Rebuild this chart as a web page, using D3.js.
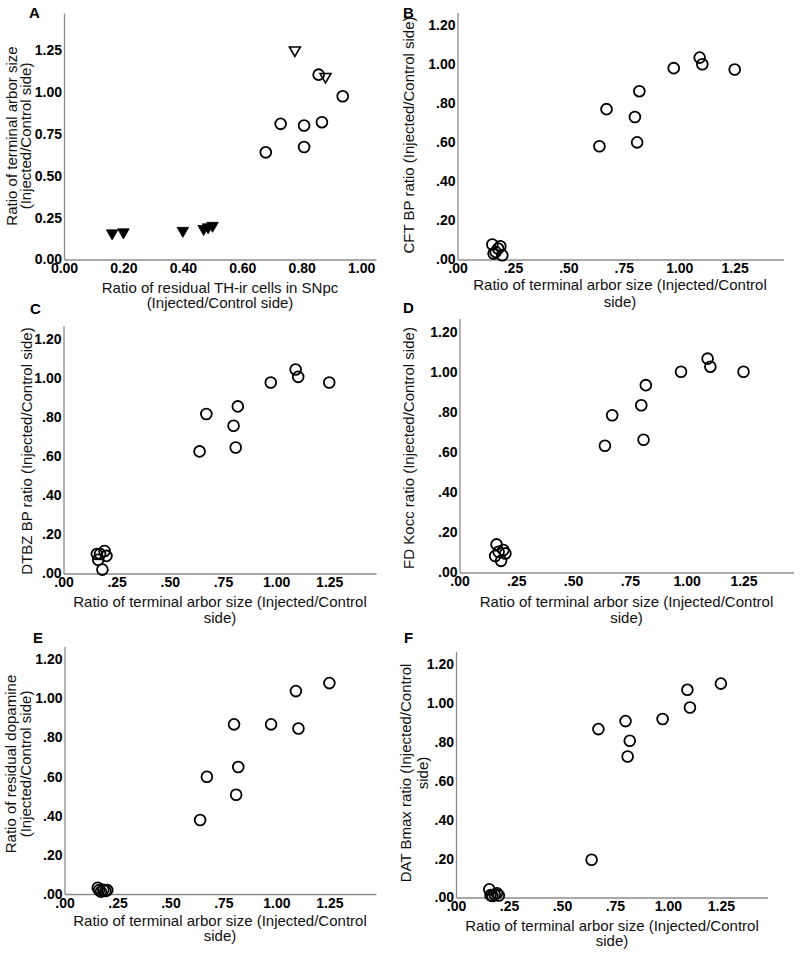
<!DOCTYPE html>
<html>
<head>
<meta charset="utf-8">
<script src="https://cdn.jsdelivr.net/npm/d3@7"></script>
<style>
  html, body { margin: 0; padding: 0; background: #fff; }
  svg { display: block; }
</style>
</head>
<body>
<svg id="chart" width="800" height="954"></svg>
<script>
// ---------------- DATA ----------------
// one entry per animal (same order in every array)
const thCells   = [0.679, 0.808, 0.808, 0.729, 0.868, 0.938, 0.880, 0.857, 0.777, 0.162, 0.200, 0.400, 0.470, 0.485, 0.500];
const arborSize = [0.640, 0.672, 0.800, 0.810, 0.820, 0.975, 1.092, 1.104, 1.250, 0.157, 0.163, 0.172, 0.183, 0.193, 0.202];
const markerGroup = ["circle","circle","circle","circle","circle","circle","open","circle","open",
                     "filled","filled","filled","filled","filled","filled"];
const cftBP     = [0.580, 0.770, 0.730, 0.600, 0.862, 0.980, 1.034, 1.000, 0.973, 0.077, 0.031, 0.039, 0.056, 0.068, 0.022];
const dtbzBP    = [0.624, 0.815, 0.755, 0.644, 0.854, 0.976, 1.043, 1.005, 0.976, 0.100, 0.070, 0.100, 0.020, 0.115, 0.090];
const fdKocc    = [0.631, 0.783, 0.833, 0.661, 0.933, 1.000, 1.065, 1.025, 1.000, 0.082, 0.140, 0.103, 0.058, 0.112, 0.095];
const dopamine  = [0.378, 0.599, 0.867, 0.507, 0.649, 0.867, 1.037, 0.846, 1.078, 0.032, 0.020, 0.012, 0.022, 0.015, 0.020];
const datBmax   = [0.194, 0.866, 0.907, 0.725, 0.806, 0.918, 1.068, 0.977, 1.100, 0.042, 0.012, 0.008, 0.015, 0.022, 0.010];

// tick values and labels
const thTicks         = [0, 0.2, 0.4, 0.6, 0.8, 1.0];
const thTickLabels    = ["0.00", "0.20", "0.40", "0.60", "0.80", "1.00"];
const arborATicks     = [0, 0.25, 0.5, 0.75, 1.0, 1.25];
const arborATickLabels= ["0.00", "0.25", "0.50", "0.75", "1.00", "1.25"];
const arborTicks      = [0, 0.25, 0.5, 0.75, 1.0, 1.25];
const arborTickLabels = [".00", ".25", ".50", ".75", "1.00", "1.25"];
const ratioTicks      = [0, 0.2, 0.4, 0.6, 0.8, 1.0, 1.2];
const ratioTickLabels = [".00", ".20", ".40", ".60", ".80", "1.00", "1.20"];

// titles
const xTitleTH    = ["Ratio of residual TH-ir cells in SNpc", "(Injected/Control side)"];
const xTitleArbor = ["Ratio of terminal arbor size (Injected/Control", "side)"];
const yTitleA = ["Ratio of terminal arbor size", "(Injected/Control side)"];
const yTitleB = ["CFT BP ratio (Injected/Control side)"];
const yTitleC = ["DTBZ BP ratio (Injected/Control side)"];
const yTitleD = ["FD Kocc ratio (Injected/Control side)"];
const yTitleE = ["Ratio of residual dopamine", "(Injected/Control side)"];
const yTitleF = ["DAT Bmax ratio (Injected/Control", "side)"];

// ---------------- LAYOUT ----------------
const FONT = "'Liberation Sans', Arial, Helvetica, sans-serif";
const panels = [
  { letter: "A", lx: 29, ly: 18, x: thCells, y: arborSize, groups: true,
    xd: [0, 1.05], yd: [0, 1.472], left: 64, right: 376, top: 13, bottom: 259.5,
    xt: thTicks, xtl: thTickLabels, yt: arborATicks, ytl: arborATickLabels,
    xTitle: xTitleTH, xtY: [292.5, 308], xtX: 220,
    yTitle: yTitleA, ytX: [17, 31], ytY: 136 },
  { letter: "B", lx: 403, ly: 18, x: arborSize, y: cftBP,
    xd: [0, 1.47], yd: [0, 1.265], left: 457.5, right: 783.5, top: 12.5, bottom: 259.5,
    xt: arborTicks, xtl: arborTickLabels, yt: ratioTicks, ytl: ratioTickLabels,
    xTitle: xTitleArbor, xtY: [290, 306.5], xtX: 620,
    yTitle: yTitleB, ytX: [413.5], ytY: 135 },
  { letter: "C", lx: 30, ly: 314, x: arborSize, y: dtbzBP,
    xd: [0, 1.47], yd: [0, 1.265], left: 63.5, right: 376, top: 326, bottom: 573.5,
    xt: arborTicks, xtl: arborTickLabels, yt: ratioTicks, ytl: ratioTickLabels,
    xTitle: xTitleArbor, xtY: [606.5, 623], xtX: 220,
    yTitle: yTitleC, ytX: [32], ytY: 451 },
  { letter: "D", lx: 403, ly: 313, x: arborSize, y: fdKocc,
    xd: [0, 1.47], yd: [0, 1.265], left: 459.5, right: 793.5, top: 318.5, bottom: 572.5,
    xt: arborTicks, xtl: arborTickLabels, yt: ratioTicks, ytl: ratioTickLabels,
    xTitle: xTitleArbor, xtY: [606.5, 623], xtX: 626.5,
    yTitle: yTitleD, ytX: [413.5], ytY: 448 },
  { letter: "E", lx: 33, ly: 643, x: arborSize, y: dopamine,
    xd: [0, 1.47], yd: [0, 1.265], left: 64.5, right: 376, top: 646.5, bottom: 894,
    xt: arborTicks, xtl: arborTickLabels, yt: ratioTicks, ytl: ratioTickLabels,
    xTitle: xTitleArbor, xtY: [926, 941], xtX: 220,
    yTitle: yTitleE, ytX: [16, 31], ytY: 764 },
  { letter: "F", lx: 404, ly: 643, x: arborSize, y: datBmax,
    xd: [0, 1.47], yd: [0, 1.265], left: 456, right: 767.5, top: 651.5, bottom: 897.5,
    xt: arborTicks, xtl: arborTickLabels, yt: ratioTicks, ytl: ratioTickLabels,
    xTitle: xTitleArbor, xtY: [931, 945.5], xtX: 612,
    yTitle: yTitleF, ytX: [411, 428], ytY: 773 }
];

const svg = d3.select("#chart");
const AXIS_COLOR = "#8c8c8c";

panels.forEach(p => {
  const g = svg.append("g");
  const xs = d3.scaleLinear().domain(p.xd).range([p.left, p.right]);
  const ys = d3.scaleLinear().domain(p.yd).range([p.bottom, p.top]);

  // x axis
  const gx = g.append("g")
    .attr("transform", `translate(0,${p.bottom})`)
    .call(d3.axisBottom(xs).tickValues(p.xt).tickFormat((d, i) => p.xtl[i])
          .tickSize(0).tickSizeOuter(0).tickPadding(4));
  // y axis
  const gy = g.append("g")
    .attr("transform", `translate(${p.left},0)`)
    .call(d3.axisLeft(ys).tickValues(p.yt).tickFormat((d, i) => p.ytl[i])
          .tickSize(0).tickSizeOuter(0).tickPadding(2));
  [gx, gy].forEach(a => {
    a.attr("font-family", FONT).attr("font-size", 14).attr("font-weight", "bold");
    a.select(".domain").attr("stroke", AXIS_COLOR).attr("stroke-width", 1.3);
    a.selectAll("text").attr("fill", "#000");
  });

  // panel letter
  g.append("text").attr("x", p.lx).attr("y", p.ly)
    .attr("font-family", FONT).attr("font-size", 15).attr("font-weight", "bold")
    .text(p.letter);

  // x title
  p.xTitle.forEach((t, i) => {
    g.append("text").attr("x", p.xtX).attr("y", p.xtY[i])
      .attr("text-anchor", "middle").attr("font-family", FONT).attr("font-size", 15)
      .attr("fill", "#111").text(t);
  });
  // y title
  p.yTitle.forEach((t, i) => {
    g.append("text")
      .attr("transform", `translate(${p.ytX[i]},${p.ytY}) rotate(-90)`)
      .attr("text-anchor", "middle").attr("font-family", FONT).attr("font-size", 15)
      .attr("fill", "#111").text(t);
  });

  // points
  const data = p.x.map((v, i) => ({ x: v, y: p.y[i], grp: p.groups ? markerGroup[i] : "circle" }));
  const tri = d3.symbol().type(d3.symbolTriangle);
  data.forEach(d => {
    const cx = xs(d.x), cy = ys(d.y);
    if (d.grp === "circle") {
      g.append("circle").attr("cx", cx).attr("cy", cy).attr("r", 5.4)
        .attr("fill", "none").attr("stroke", "#000").attr("stroke-width", 1.8);
    } else if (d.grp === "open") {
      g.append("path").attr("d", tri.size(52)())
        .attr("transform", `translate(${cx},${cy}) rotate(180)`)
        .attr("fill", "none").attr("stroke", "#000").attr("stroke-width", 1.6);
    } else {
      g.append("path").attr("d", tri.size(58)())
        .attr("transform", `translate(${cx},${cy}) rotate(180)`)
        .attr("fill", "#000").attr("stroke", "#000").attr("stroke-width", 0.8);
    }
  });
});
</script>
</body>
</html>
